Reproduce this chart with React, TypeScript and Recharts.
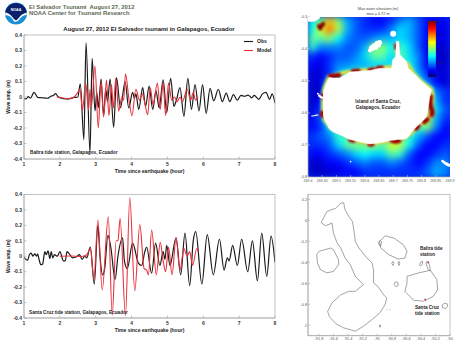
import React from "react";
import {
  LineChart, Line, XAxis, YAxis, Legend, ScatterChart, Scatter, ComposedChart, Area,
} from "recharts";

const FONT = '"Liberation Sans", Arial, sans-serif';
const timeTicks = [1, 2, 3, 4, 5, 6, 7, 8];
const ampTicks = [-0.4, -0.3, -0.2, -0.1, 0, 0.1, 0.2, 0.3, 0.4];

const baltraObs: [number, number][] = [
  [1,-0.01],[1.06,-0.012],[1.12,0.002],[1.18,-0.008],[1.28,0.03],[1.38,-0.002],[1.5,-0.005],[1.65,-0.008],[1.75,0.005],[1.82,0.01],[1.88,0.022],[1.95,0.002],[2.1,-0.01],[2.25,-0.012],[2.4,-0.003],[2.5,0],[2.57,0.085],
  [2.67,-0.275],[2.73,0.35],[2.84,-0.36],[2.9,0.25],[2.98,-0.09],[3.03,0.03],[3.07,-0.07],[3.15,0.115],[3.22,-0.12],[3.28,0.05],[3.33,-0.03],[3.4,0.115],[3.5,-0.195],[3.58,0.125],[3.69,-0.07],[3.82,0.1],[3.92,-0.07],[4.03,0.03],[4.08,-0.01],[4.12,0.02],[4.2,-0.08],[4.31,0.06],[4.39,-0.06],[4.49,0.07],[4.59,-0.08],[4.68,0.04],[4.77,-0.07],[4.88,0.11],[4.98,-0.1],[5.09,0.12],[5.18,-0.06],[5.25,-0.02],[5.35,0.06],[5.46,-0.125],[5.57,0.12],[5.67,-0.08],[5.77,0.08],[5.88,-0.09],[5.98,0.08],[6.08,-0.105],[6.19,0.055],[6.29,-0.025],[6.42,0.05],[6.53,-0.03],[6.64,0.025],[6.74,-0.03],[6.84,0.015],[6.95,-0.02],[7.05,0.01],[7.15,0.005],[7.25,0.012],[7.35,-0.005],[7.42,0.01],[7.55,-0.015],[7.65,0.02],[7.75,0.03],[7.85,-0.015],[7.92,0.02],[8,-0.04],
];
const baltraModel: [number, number][] = [
  [1.91,0],[2,-0.002],[2.2,-0.012],[2.4,0],[2.5,0.03],[2.56,0.05],[2.63,-0.085],[2.72,0.09],[2.8,-0.085],[2.84,0.05],[2.88,-0.06],[2.98,0.2],[3.07,-0.2],[3.15,0.1],[3.22,-0.13],[3.3,0.11],[3.37,-0.12],[3.44,0.08],[3.49,-0.07],[3.56,0.12],[3.64,-0.09],[3.73,0],[3.78,-0.02],[3.83,0.15],[3.93,-0.02],[4.01,-0.12],[4.12,0.05],[4.22,-0.02],[4.3,0.02],[4.36,-0.03],[4.45,-0.115],[4.52,0.06],[4.6,-0.05],[4.72,0.09],[4.8,-0.08],[4.88,0.09],[4.95,-0.12],[5.03,0.09],[5.12,-0.02],[5.2,0],[5.27,-0.03],[5.35,0],[5.42,-0.03],[5.55,0.05],[5.65,-0.02],[5.72,0.03],[5.78,-0.02],[5.85,0],
];
const cruzObs: [number, number][] = [
  [1,-0.005],[1.05,-0.02],[1.1,-0.025],[1.15,0.01],[1.2,0.02],[1.25,0],[1.3,0.015],[1.35,0],[1.38,0.015],[1.42,-0.02],[1.47,-0.055],[1.52,-0.05],[1.58,0.03],[1.62,0.01],[1.67,0.035],[1.72,-0.015],[1.76,0.03],[1.8,-0.01],[1.85,0.01],[1.93,0],[2,0.03],[2.1,-0.03],[2.15,-0.03],[2.2,0.03],[2.28,0.01],[2.35,-0.01],[2.45,-0.005],[2.55,0.01],[2.62,-0.02],[2.7,0],[2.75,-0.01],[2.85,0.06],
  [2.96,-0.18],[3.06,0.2],[3.12,0],[3.19,-0.12],[3.25,-0.08],[3.34,0.135],[3.42,0.06],[3.54,-0.15],[3.62,0],[3.75,0.12],[3.8,-0.03],[3.88,-0.08],[4.03,0.085],[4.19,-0.045],[4.28,-0.06],[4.37,0.03],[4.42,0.06],[4.56,-0.11],[4.67,0.085],[4.79,-0.06],[4.88,0.03],[4.93,-0.02],[4.98,0.07],[5.07,-0.06],[5.24,0.12],[5.37,-0.12],[5.49,0.15],[5.62,-0.19],[5.72,0.1],[5.79,0.16],[5.96,-0.18],[6.11,0.14],[6.28,-0.12],[6.45,0.11],[6.58,-0.09],[6.67,-0.01],[6.72,-0.03],[6.82,0.07],[6.95,-0.06],[7.07,0.11],[7.24,-0.1],[7.37,0.1],[7.51,-0.16],[7.63,0.15],[7.77,-0.13],[7.89,0.13],[8,-0.04],
];
const cruzModel: [number, number][] = [
  [2,0],[2.3,0.002],[2.6,-0.002],[2.75,0.01],[2.85,0.05],[2.95,-0.15],[3.06,0.235],[3.18,-0.22],[3.35,0.255],[3.46,-0.38],[3.57,0.1],[3.62,0.1],[3.68,0.245],[3.83,-0.385],[3.95,0.38],[4.09,-0.225],[4.23,0.205],[4.35,-0.08],[4.42,-0.09],[4.47,-0.12],[4.56,0.17],[4.69,-0.12],[4.8,0.09],[4.88,-0.03],[4.95,-0.1],[5.03,0.06],[5.13,-0.12],[5.24,0.12],[5.35,-0.09],[5.46,0.05],[5.55,0],[5.62,0.03],[5.7,-0.06],[5.82,0.05],[5.86,0.03],
];

const heatRows = [
  [.45,.55,.8,.6,.35,.25,.2,.15,.15,.2,.3,.35,.25,.15,.12,.15],
  [.45,.7,.9,.65,.35,.25,.2,.2,.2,.3,.4,.35,.25,.15,.12,.12],
  [.55,.55,.6,.45,.3,.25,.25,.3,.35,.35,.4,.35,.25,.15,.12,.12],
  [.5,.3,.3,.3,.25,.25,.35,.6,.6,.45,.5,.4,.25,.12,.1,.1],
  [.2,.15,.2,.25,.25,.3,.4,.55,.55,.4,.55,.4,.3,.15,.1,.08],
  [.15,.12,.2,.3,.3,.35,.35,.4,.4,.4,.55,.45,.3,.15,.1,.1],
  [.1,.1,.2,.35,.45,.5,.55,.55,.55,.6,.6,.55,.35,.2,.12,.1],
  [.1,.1,.3,.6,.7,.7,.7,.7,.7,.7,.7,.6,.4,.3,.15,.1],
  [.08,.08,.3,.5,.5,.5,.5,.5,.5,.5,.5,.5,.5,.45,.3,.2],
  [.08,.15,.45,.5,.5,.5,.5,.5,.5,.5,.5,.5,.6,.7,.35,.2],
  [.1,.2,.4,.5,.5,.5,.5,.5,.5,.5,.5,.5,.5,.7,.4,.25],
  [.12,.25,.5,.5,.5,.5,.5,.5,.5,.5,.5,.5,.5,.7,.35,.2],
  [.15,.2,.4,.5,.5,.5,.5,.5,.5,.5,.5,.5,.5,.6,.3,.15],
  [.2,.25,.3,.5,.5,.5,.5,.5,.5,.6,.6,.5,.35,.25,.15,.15],
  [.2,.2,.25,.4,.55,.6,.6,.6,.55,.7,.65,.45,.25,.15,.15,.2],
  [.15,.15,.2,.25,.3,.4,.45,.4,.4,.55,.5,.25,.15,.15,.2,.25],
  [.08,.1,.15,.15,.2,.25,.3,.25,.25,.3,.25,.2,.15,.2,.3,.3],
  [.08,.08,.1,.12,.15,.15,.2,.2,.2,.2,.2,.2,.2,.25,.35,.3],
];
const lonTicks = [269.4,269.45,269.5,269.55,269.6,269.65,269.7,269.75,269.8,269.85,269.9];
const latTicks = [-0.8,-0.7,-0.6,-0.5,-0.4,-0.3];

const haloRing = [
  [269.474,-.488],[269.494,-.482],[269.524,-.474],[269.559,-.47],[269.588,-.467],[269.624,-.465],[269.653,-.46],[269.682,-.457],[269.712,-.458],[269.741,-.453],[269.749,-.444],[269.773,-.478],[269.8,-.502],[269.835,-.526],[269.839,-.549],[269.835,-.58],[269.827,-.606],[269.812,-.62],[269.788,-.641],[269.765,-.662],[269.735,-.68],[269.706,-.685],[269.671,-.69],[269.624,-.697],[269.582,-.69],[269.553,-.685],[269.529,-.662],[269.482,-.648],[269.459,-.622],[269.453,-.606],[269.453,-.57],[269.453,-.544],[269.459,-.52],[269.474,-.488],
];
const haloSpur = [[269.712,-.385],[269.712,-.41]];
const hotRuns = [
  [[269.479,-.484],[269.494,-.484],[269.509,-.482]],
  [[269.559,-.47],[269.577,-.469]],
  [[269.618,-.467],[269.63,-.465]],
  [[269.647,-.46],[269.659,-.459]],
  [[269.706,-.458],[269.721,-.457],[269.738,-.453]],
  [[269.832,-.549],[269.83,-.565],[269.832,-.58],[269.838,-.596],[269.836,-.606]],
  [[269.82,-.62],[269.81,-.628]],
  [[269.788,-.641],[269.78,-.648]],
  [[269.694,-.684],[269.706,-.689],[269.72,-.687]],
  [[269.618,-.698],[269.625,-.698]],
  [[269.559,-.686],[269.55,-.683]],
  [[269.529,-.664],[269.525,-.66]],
  [[269.452,-.608],[269.45,-.6]],
  [[269.455,-.544],[269.454,-.55]],
  [[269.712,-.389],[269.712,-.395]],
];
const hotSource = [[269.439,-.328],[269.447,-.328],[269.453,-.322],[269.443,-.335]];
const islandTop = [
  [269.453,-.538,-.606],[269.459,-.518,-.622],[269.474,-.489,-.648],[269.488,-.491,-.659],[269.512,-.491,-.668],[269.547,-.472,-.683],[269.618,-.467,-.697],[269.653,-.46,-.693],[269.694,-.46,-.685],[269.698,-.434,-.685],[269.709,-.423,-.684],[269.711,-.376,-.683],[269.72,-.376,-.683],[269.724,-.418,-.683],[269.747,-.439,-.68],[269.753,-.46,-.674],[269.765,-.47,-.659],[269.782,-.484,-.643],[269.788,-.491,-.638],[269.818,-.515,-.612],[269.829,-.523,-.549],[269.835,-.528,-.528],
];
const whiteSpots: [number, number, number][] = [
  [269.7,-.352,3],[269.625,-.398,3],[269.635,-.392,3.5],[269.645,-.385,3.5],[269.652,-.38,2.5],[269.618,-.405,2],
  [269.408,-.304,3.5],[269.418,-.304,3.5],[269.428,-.303,2.5],[269.435,-.301,2],
  [269.414,-.609,.7],[269.418,-.609,.7],[269.422,-.608,.7],[269.426,-.608,.7],[269.43,-.607,.7],[269.434,-.606,.7],
  [269.435,-.54,1],[269.44,-.546,1.3],[269.445,-.55,1.3],[269.45,-.552,1.2],
  [269.55,-.752,.8],
  [269.873,-.75,1.2],[269.878,-.753,1.5],[269.884,-.757,1.6],[269.89,-.76,1.7],[269.896,-.763,1.7],
];

const gLonTicks = [-91.8,-91.6,-91.4,-91.2,-91,-90.8,-90.6,-90.4,-90.2,-90];
const gLatTicks = [-1,-0.8,-0.6,-0.4,-0.2,0,0.2];
const isabela = [[-91.77,-.02],[-91.69,.086],[-91.64,.1],[-91.57,.117],[-91.5,.165],[-91.46,.17],[-91.44,.1],[-91.39,.04],[-91.34,-.01],[-91.32,-.09],[-91.3,-.2],[-91.25,-.263],[-91.16,-.343],[-91.07,-.406],[-91.05,-.47],[-91.05,-.597],[-90.99,-.63],[-90.91,-.71],[-90.87,-.74],[-90.89,-.8],[-90.96,-.88],[-91.07,-.946],[-91.19,-1.01],[-91.3,-1.057],[-91.46,-1.025],[-91.57,-.984],[-91.66,-.914],[-91.68,-.867],[-91.62,-.787],[-91.5,-.71],[-91.39,-.676],[-91.3,-.676],[-91.19,-.613],[-91.3,-.533],[-91.37,-.422],[-91.44,-.359],[-91.5,-.263],[-91.55,-.216],[-91.6,-.12],[-91.62,-.025],[-91.71,-.05],[-91.77,-.02]];
const fernandina = [[-91.83,-.327],[-91.8,-.295],[-91.64,-.263],[-91.6,-.279],[-91.53,-.375],[-91.53,-.422],[-91.6,-.486],[-91.69,-.5],[-91.78,-.47],[-91.82,-.406],[-91.83,-.327]];
const santiago = [[-90.97,-.2],[-90.89,-.146],[-90.77,-.168],[-90.64,-.232],[-90.59,-.295],[-90.62,-.359],[-90.71,-.368],[-90.84,-.327],[-90.95,-.263],[-90.97,-.2]];
const santaCruz = [[-90.59,-.533],[-90.43,-.5],[-90.27,-.476],[-90.18,-.565],[-90.17,-.66],[-90.23,-.724],[-90.36,-.771],[-90.5,-.762],[-90.62,-.676],[-90.59,-.597],[-90.59,-.533]];
const smallIslands = [
  [[-90.11,-.81],[-90.08,-.79],[-90.04,-.795],[-90.03,-.82],[-90.06,-.84],[-90.1,-.835],[-90.11,-.81]],
  [[-90.77,-.61],[-90.75,-.585],[-90.72,-.59],[-90.71,-.62],[-90.74,-.635],[-90.77,-.61]],
  [[-90.42,-.42],[-90.4,-.395],[-90.375,-.39],[-90.38,-.42],[-90.41,-.435],[-90.42,-.42]],
  [[-90.8,-.41],[-90.785,-.39],[-90.77,-.41],[-90.785,-.43],[-90.8,-.41]],
  [[-90.715,-.41],[-90.7,-.39],[-90.69,-.41],[-90.7,-.43],[-90.715,-.41]],
  [[-90.98,-.21],[-90.96,-.19],[-90.94,-.2],[-90.95,-.24],[-90.97,-.24],[-90.98,-.21]],
  [[-90.33,-.4],[-90.3,-.39],[-90.28,-.43],[-90.27,-.48],[-90.3,-.47],[-90.32,-.43],[-90.33,-.4]],
  [[-90.97,-1],[-90.95,-1],[-90.96,-1.02],[-90.97,-1]],
  [[-90.87,-.85],[-90.86,-.855]],[[-90.83,-.85],[-90.82,-.855]],
];
const stations = [[-90.3,-.4],[-90.34,-.755]];

const toRows = (pts: [number, number][]) => pts.map(([t, v]) => ({ t, v }));
const toGeo = (pts: number[][]) => pts.map(([lon, lat]) => ({ lon, lat }));
const clamp = (x: number) => Math.max(0, Math.min(1, x));
const jet = (raw: number) => {
  const v = raw * 0.85;
  const ch = (c: number) => Math.round(255 * clamp(1.5 - Math.abs(4 * v - c)));
  return `rgb(${ch(3)},${ch(2)},${ch(1)})`;
};
const heatCells = heatRows.flatMap((row, r) =>
  row.map((value, c) => ({ lon: 269.4 + ((c + 0.5) * 0.5) / 16, lat: -0.3 - ((r + 0.5) * 0.5) / 18, value }))
);

const tickStyle = { fontSize: 5, fontWeight: 700, fill: "#333", fontFamily: FONT };
const mapTick = { fontSize: 3.6, fill: "#555", fontFamily: FONT };
const axisLine = { stroke: "#aaa", strokeWidth: 0.7 };

function WaveChart(p: { top: number; height: number; marginTop: number; marginBottom: number; obs: [number, number][]; model: [number, number][]; legend?: boolean }) {
  return (
    <div style={{ position: "absolute", left: 0, top: p.top }}>
      <LineChart width={290} height={p.height} margin={{ top: p.marginTop, right: 15, bottom: p.marginBottom, left: 0 }}>
        <XAxis dataKey="t" type="number" domain={[1, 8]} ticks={timeTicks} allowDataOverflow height={14} tick={tickStyle} tickSize={-2.5} tickMargin={6} axisLine={axisLine} tickLine={axisLine} interval={0}
          label={{ value: "Time since earthquake (hour)", position: "insideBottom", offset: 0, style: { fontSize: 5, fontWeight: 700, fill: "#222", fontFamily: FONT } }} />
        <YAxis type="number" domain={[-0.4, 0.4]} ticks={ampTicks} allowDataOverflow width={24} tick={tickStyle} tickSize={-2.5} tickMargin={4.5} axisLine={axisLine} tickLine={axisLine} interval={0}
          label={{ value: "Wave amp. (m)", angle: -90, position: "insideLeft", offset: 8, style: { fontSize: 4.8, fontWeight: 700, fill: "#222", fontFamily: FONT, textAnchor: "middle" } }} />
        {p.legend && (
          <Legend layout="vertical" align="center" verticalAlign="middle" iconType="plainline" iconSize={9} itemSorter={null}
            wrapperStyle={{ left: 244, top: 37, width: 60, whiteSpace: "nowrap", lineHeight: "7px", fontSize: 5, fontWeight: 700, fontFamily: FONT, textAlign: "left" }}
            formatter={(v: string) => <span style={{ color: "#222" }}>{v}</span>} />
        )}
        <Line name="Obs" data={toRows(p.obs)} dataKey="v" type="monotone" stroke="#1a1a1a" strokeWidth={1.2} dot={false} isAnimationActive={false} />
        <Line name="Model" data={toRows(p.model)} dataKey="v" type="monotone" stroke="#e8303a" strokeWidth={1.1} dot={false} isAnimationActive={false} />
      </LineChart>
    </div>
  );
}

const Heat = (s: any) => <rect x={s.cx - 5.2} y={s.cy - 5.4} width={10.4} height={10.8} fill={jet(s.payload.value)} />;
const dot = (r: number, fill: string) => (s: any) => <circle cx={s.cx} cy={s.cy} r={r} fill={fill} />;
const WhiteSpot = (s: any) => <circle cx={s.cx} cy={s.cy} r={s.payload.r} fill="#fff" />;
const NoDot = () => <g />;

function MaxElevation() {
  const box = { left: 308, top: 17, width: 142, height: 160 };
  const axes = (
    <>
      <XAxis dataKey="lon" type="number" domain={[269.4, 269.9]} hide allowDataOverflow />
      <YAxis dataKey="lat" type="number" domain={[-0.8, -0.3]} hide allowDataOverflow />
    </>
  );
  const stroke = (color: string, width: number) => ({ stroke: color, strokeWidth: width, strokeLinecap: "round", strokeLinejoin: "round", fill: "none" });
  return (
    <>
      <div style={{ position: "absolute", ...box, overflow: "hidden", background: "#0a30e0" }}>
        <div style={{ filter: "blur(3.5px)" }}>
          <ScatterChart width={142} height={160} margin={{ top: 0, right: 0, bottom: 0, left: 0 }}>
            {axes}
            <Scatter data={heatCells} shape={Heat} isAnimationActive={false} />
          </ScatterChart>
        </div>
      </div>
      <div style={{ position: "absolute", ...box, overflow: "hidden", filter: "blur(0.9px)" }}>
        <ScatterChart width={142} height={160} margin={{ top: 0, right: 0, bottom: 0, left: 0 }}>
          {axes}
          <Scatter data={toGeo(haloRing)} line={stroke("#55d8c8", 5)} lineType="joint" shape={NoDot} isAnimationActive={false} />
          <Scatter data={toGeo(haloSpur)} line={stroke("#55d8c8", 5)} lineType="joint" shape={NoDot} isAnimationActive={false} />
          <Scatter data={toGeo(haloRing)} line={stroke("#f2e02a", 2.8)} lineType="joint" shape={NoDot} isAnimationActive={false} />
          <Scatter data={toGeo(haloSpur)} line={stroke("#f2e02a", 2.8)} lineType="joint" shape={NoDot} isAnimationActive={false} />
          {hotRuns.map((run, i) => (
            <Scatter key={"r" + i} data={toGeo(run)} line={stroke("#e81a10", 5)} lineType="joint" shape={NoDot} isAnimationActive={false} />
          ))}
          {hotRuns.map((run, i) => (
            <Scatter key={"d" + i} data={toGeo(run)} line={stroke("#8a0000", 3.4)} lineType="joint" shape={NoDot} isAnimationActive={false} />
          ))}
          <Scatter data={toGeo(hotSource)} shape={dot(2.2, "#8a0000")} isAnimationActive={false} />
        </ScatterChart>
      </div>
      <div style={{ position: "absolute", left: 290, top: 0 }}>
        <ComposedChart width={184} height={190} data={islandTop.map(([lon, a, b]) => ({ lon, range: [b, a] }))} margin={{ top: 17, right: 24, bottom: 0, left: 0 }}>
          <XAxis dataKey="lon" type="number" domain={[269.4, 269.9]} ticks={lonTicks} interval={0} height={13} tick={mapTick} tickSize={-2} tickMargin={4} axisLine={axisLine} tickLine={axisLine} allowDataOverflow />
          <YAxis dataKey="lat" type="number" domain={[-0.8, -0.3]} ticks={latTicks} interval={0} width={18} tick={mapTick} tickSize={-2} tickMargin={3} axisLine={axisLine} tickLine={axisLine} allowDataOverflow />
          <Area dataKey="range" type="linear" fill="#fff" fillOpacity={1} stroke="#fff" strokeWidth={0.5} dot={false} activeDot={false} isAnimationActive={false} />
          <Scatter data={whiteSpots.map(([lon, lat, r]) => ({ lon, lat, r }))} shape={WhiteSpot} isAnimationActive={false} />
        </ComposedChart>
      </div>
    </>
  );
}

function Galapagos() {
  const coast = { stroke: "#666", strokeWidth: 0.6 };
  const outlines = [isabela, fernandina, santiago, santaCruz, ...smallIslands];
  return (
    <div style={{ position: "absolute", left: 290, top: 180 }}>
      <ScatterChart width={184} height={174} margin={{ top: 14.3, right: 24, bottom: 6.3, left: 0 }}>
        <XAxis dataKey="lon" type="number" domain={[-91.95, -90]} ticks={gLonTicks} interval={0} height={12} tick={{ ...mapTick, fontSize: 3.8 }} tickSize={-2} tickMargin={4} axisLine={axisLine} tickLine={axisLine} allowDataOverflow />
        <YAxis dataKey="lat" type="number" domain={[-1.1, 0.25]} ticks={gLatTicks} interval={0} width={18} tick={{ ...mapTick, fontSize: 3.8 }} tickSize={-2} tickMargin={3} axisLine={axisLine} tickLine={axisLine} allowDataOverflow />
        {outlines.map((o, i) => (
          <Scatter key={i} data={toGeo(o)} line={coast} lineType="joint" shape={NoDot} isAnimationActive={false} />
        ))}
        <Scatter data={toGeo(stations)} shape={dot(1, "#e04040")} isAnimationActive={false} />
      </ScatterChart>
    </div>
  );
}

function Overlay() {
  const b = { fontFamily: FONT, fontWeight: 700 } as const;
  const frames = [[24, 35, 251, 124], [24, 194.5, 251, 123.5], [308, 194.3, 142, 141.4]];
  return (
    <svg width={474} height={354} style={{ position: "absolute", left: 0, top: 0, pointerEvents: "none" }}>
      {frames.map(([x, y, width, height], i) => (
        <rect key={i} x={x} y={y} width={width} height={height} fill="none" stroke="#aaa" strokeWidth={0.7} />
      ))}
      <circle cx={16} cy={13.5} r={11} fill="#1b8fd6" />
      <path d="M5.2 12 A11 11 0 0 1 26.8 12 Q22 14 20 17 Q18 20 16 21 Q13 19 11 16 Q8 13.5 5.2 12Z" fill="#0c1f6b" />
      <path d="M5.3 15.5 Q10 14 14 21.5 Q16.5 22.5 19 20 Q22 15 26.8 15 L26.6 13 Q22 13.5 19.5 17 Q17.5 20 16 20.6 Q13.5 19 11 15.5 Q8.5 13 5.4 12.6Z" fill="#fff" />
      <text x={16} y={10.5} textAnchor="middle" fontSize={3.6} fill="#fff" {...b}>NOAA</text>

      <text x={29} y={9} fontSize={5.9} fill="#5c6a52" {...b} xmlSpace="preserve">El Salvador Tsunami  August 27, 2012</text>
      <text x={29} y={15} fontSize={5.9} fill="#5c6a52" {...b}>NOAA Center for Tsunami Research</text>
      <text x={149} y={31} textAnchor="middle" fontSize={6} fill="#222" {...b}>August 27, 2012 El Salvador tsunami in Galapagos, Ecuador</text>
      <text x={30} y={153.5} fontSize={4.7} fill="#222" {...b}>Baltra tide station, Galapagos, Ecuador</text>
      <text x={29} y={313.5} fontSize={4.7} fill="#222" {...b}>Santa Cruz tide station, Galapagos, Ecuador</text>

      <text x={378} y={9.5} textAnchor="middle" fontSize={3.8} fill="#444" fontFamily={FONT}>Max water elevation (m)</text>
      <text x={378} y={14.5} textAnchor="middle" fontSize={3.8} fill="#444" fontFamily={FONT}>max = 0.72 m</text>
      <text x={378} y={102.5} textAnchor="middle" fontSize={4.6} fill="#222" {...b}>Island of Santa Cruz,</text>
      <text x={378} y={108.5} textAnchor="middle" fontSize={4.6} fill="#222" {...b}>Galapagos, Ecuador</text>

      <defs>
        <linearGradient id="jetBar" x1="0" y1="1" x2="0" y2="0">
          <stop offset="0" stopColor="#00007f" /><stop offset="0.12" stopColor="#0000ff" /><stop offset="0.37" stopColor="#00ffff" /><stop offset="0.62" stopColor="#ffff00" /><stop offset="0.87" stopColor="#ff0000" /><stop offset="1" stopColor="#7f0000" />
        </linearGradient>
      </defs>
      <rect x={428} y={21} width={8} height={56} fill="url(#jetBar)" stroke="#335" strokeWidth={0.3} />
      {[["0.7", 23], ["0.5", 36], ["0.1", 51], ["0.05", 64], ["0", 78]].map(([t, y]) => (
        <text key={t as string} x={437} y={y as number} fontSize={3.2} fill="#224" fontFamily={FONT}>{t}</text>
      ))}

      <text x={420} y={250} fontSize={4.6} fill="#222" {...b}>Baltra tide</text>
      <text x={420} y={255.5} fontSize={4.6} fill="#222" {...b}>station</text>
      <text x={415} y={309} fontSize={4.6} fill="#222" {...b}>Santa Cruz</text>
      <text x={415} y={314.5} fontSize={4.6} fill="#222" {...b}>tide station</text>
    </svg>
  );
}

export default function App() {
  return (
    <div style={{ position: "absolute", left: 0, top: 0, width: 474, height: 354, background: "#fff", overflow: "hidden" }}>
      <WaveChart top={0} height={180} marginTop={35} marginBottom={7} obs={baltraObs} model={baltraModel} legend />
      <WaveChart top={180} height={174} marginTop={14.5} marginBottom={22} obs={cruzObs} model={cruzModel} />
      <MaxElevation />
      <Galapagos />
      <Overlay />
    </div>
  );
}
